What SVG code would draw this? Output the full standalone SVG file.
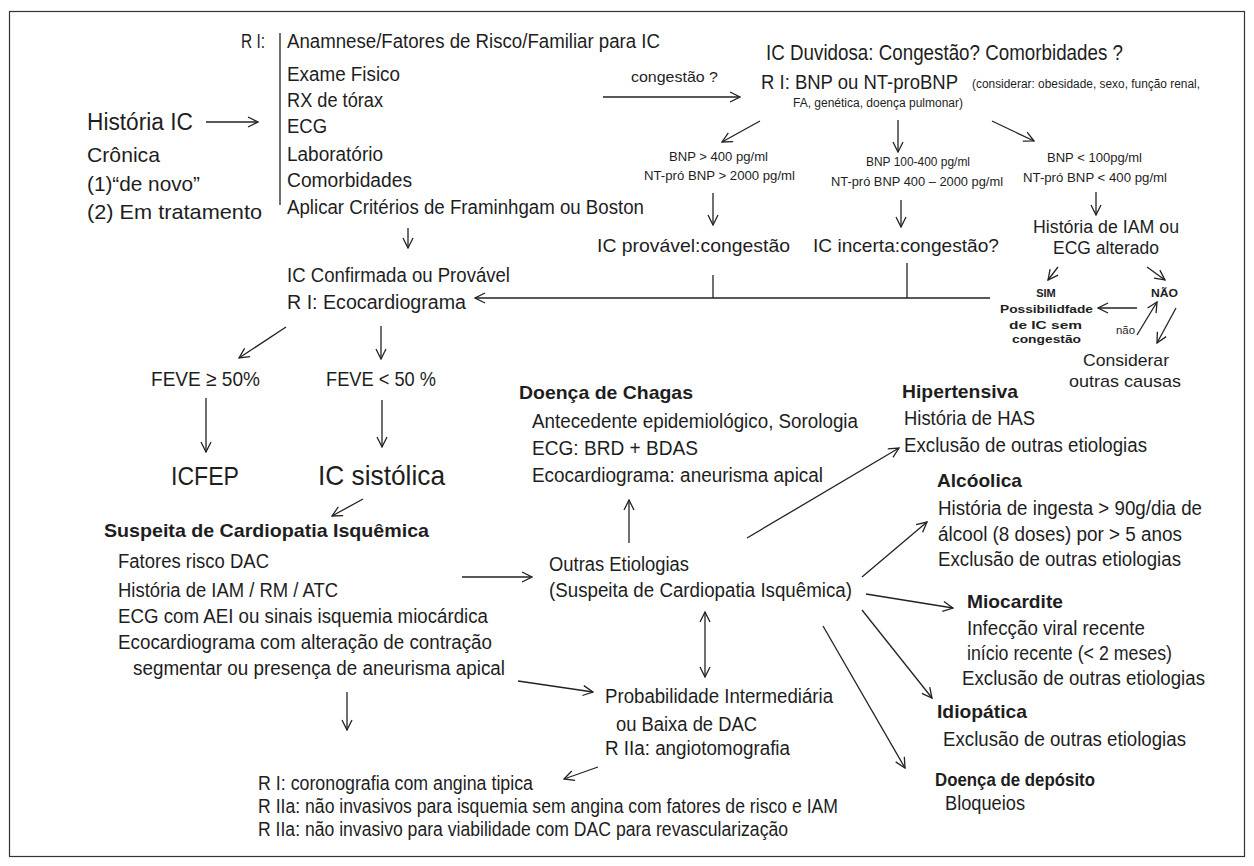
<svg xmlns="http://www.w3.org/2000/svg" width="1254" height="866" viewBox="0 0 1254 866">
<style>
text{font-family:"Liberation Sans",Arial,sans-serif;fill:#1e1e1e}
.t{font-size:20px}
.b{font-weight:bold}
.s{font-size:13px}
.xs{font-size:11px}
.c{stroke:#222;stroke-width:1.3;fill:none}
.a{marker-end:url(#ah)}
</style>
<defs>
<marker id="ah" viewBox="0 0 12 12" refX="11" refY="6" markerWidth="12" markerHeight="12" markerUnits="userSpaceOnUse" orient="auto">
<path d="M1,1 L11,6 L1,11" fill="none" stroke="#222" stroke-width="1.3"/>
</marker>
<marker id="as" viewBox="0 0 12 12" refX="1" refY="6" markerWidth="12" markerHeight="12" markerUnits="userSpaceOnUse" orient="auto">
<path d="M11,1 L1,6 L11,11" fill="none" stroke="#222" stroke-width="1.3"/>
</marker>
</defs>
<rect x="9.5" y="11.5" width="1235" height="845" fill="#fff" stroke="#333" stroke-width="1.2"/>

<g id="connectors">
<line class="c a" x1="206" y1="122" x2="258" y2="122"/>
<line class="c" x1="280" y1="33" x2="280" y2="205"/>
<line class="c a" x1="603" y1="97" x2="740" y2="97"/>
<line class="c a" x1="760" y1="121" x2="722" y2="142"/>
<line class="c a" x1="898" y1="120" x2="898" y2="152"/>
<line class="c a" x1="992" y1="121" x2="1034" y2="141"/>
<line class="c a" x1="713" y1="193" x2="713" y2="225"/>
<line class="c a" x1="901" y1="200" x2="901" y2="227"/>
<line class="c a" x1="1096" y1="192" x2="1096" y2="215"/>
<line class="c a" x1="1058" y1="267" x2="1048" y2="280"/>
<line class="c a" x1="1147" y1="267" x2="1165" y2="280"/>
<line class="c a" x1="1137" y1="308" x2="1098" y2="308"/>
<line class="c a" x1="1137" y1="335" x2="1157" y2="302"/>
<line class="c a" x1="1176" y1="308" x2="1157" y2="343"/>
<line class="c" x1="713" y1="275" x2="713" y2="298"/>
<line class="c" x1="907" y1="263" x2="907" y2="298"/>
<line class="c a" x1="990" y1="298" x2="475" y2="298"/>
<line class="c a" x1="408" y1="228" x2="408" y2="248"/>
<line class="c a" x1="286" y1="327" x2="239" y2="358"/>
<line class="c a" x1="381" y1="326" x2="381" y2="359"/>
<line class="c a" x1="206" y1="398" x2="206" y2="452"/>
<line class="c a" x1="382" y1="400" x2="382" y2="447"/>
<line class="c a" x1="363" y1="499" x2="332" y2="516"/>
<line class="c a" x1="462" y1="577" x2="532" y2="577"/>
<line class="c a" x1="629" y1="543" x2="629" y2="500"/>
<line class="c a" x1="747" y1="538" x2="899" y2="448"/>
<line class="c a" x1="862" y1="577" x2="927" y2="522"/>
<line class="c a" x1="866" y1="594" x2="953" y2="608"/>
<line class="c a" x1="862" y1="610" x2="932" y2="698"/>
<line class="c a" x1="823" y1="626" x2="905" y2="768"/>
<line class="c a" x1="705" y1="612" x2="705" y2="677" marker-start="url(#as)"/>
<line class="c a" x1="518" y1="681" x2="593" y2="692"/>
<line class="c a" x1="347" y1="692" x2="347" y2="730"/>
<line class="c a" x1="598" y1="767" x2="564" y2="779"/>
</g>

<g id="historia">
<text x="87" y="130" style="font-size:23px" textLength="106" lengthAdjust="spacingAndGlyphs">História IC</text>
<text x="87" y="162" style="font-size:21px" textLength="73" lengthAdjust="spacingAndGlyphs">Crônica</text>
<text x="87" y="191" style="font-size:21px" textLength="113" lengthAdjust="spacingAndGlyphs">(1)“de novo”</text>
<text x="87" y="219" style="font-size:21px" textLength="175" lengthAdjust="spacingAndGlyphs">(2) Em tratamento</text>
</g>

<g id="ri-list">
<text class="t" x="241" y="48" textLength="24" lengthAdjust="spacingAndGlyphs">R I:</text>
<text class="t" x="287" y="48" textLength="373" lengthAdjust="spacingAndGlyphs">Anamnese/Fatores de Risco/Familiar para IC</text>
<text class="t" x="287" y="81" textLength="113" lengthAdjust="spacingAndGlyphs">Exame Fisico</text>
<text class="t" x="287" y="107" textLength="96" lengthAdjust="spacingAndGlyphs">RX de tórax</text>
<text class="t" x="287" y="133" textLength="40" lengthAdjust="spacingAndGlyphs">ECG</text>
<text class="t" x="287" y="161" textLength="96" lengthAdjust="spacingAndGlyphs">Laboratório</text>
<text class="t" x="287" y="187" textLength="125" lengthAdjust="spacingAndGlyphs">Comorbidades</text>
<text class="t" x="287" y="214" textLength="357" lengthAdjust="spacingAndGlyphs">Aplicar Critérios de Framinhgam ou Boston</text>
</g>

<g id="congestao-label">
<text x="631" y="82" style="font-size:15px" textLength="87" lengthAdjust="spacingAndGlyphs">congestão ?</text>
</g>

<g id="ic-duvidosa">
<text x="766" y="60" style="font-size:22px" textLength="357" lengthAdjust="spacingAndGlyphs">IC Duvidosa: Congestão? Comorbidades ?</text>
<text x="761" y="89" style="font-size:21px" textLength="197" lengthAdjust="spacingAndGlyphs">R I: BNP ou NT-proBNP</text>
<text x="972" y="88" style="font-size:12px" textLength="228" lengthAdjust="spacingAndGlyphs">(considerar: obesidade, sexo, função renal,</text>
<text x="793" y="107" style="font-size:12px" textLength="170" lengthAdjust="spacingAndGlyphs">FA, genética, doença pulmonar)</text>
</g>

<g id="bnp-high">
<text class="s" x="669" y="161" textLength="99" lengthAdjust="spacingAndGlyphs">BNP &gt; 400 pg/ml</text>
<text class="s" x="644" y="180" textLength="151" lengthAdjust="spacingAndGlyphs">NT-pró BNP &gt; 2000 pg/ml</text>
</g>
<g id="bnp-mid">
<text class="s" x="866" y="166" textLength="104" lengthAdjust="spacingAndGlyphs">BNP 100-400 pg/ml</text>
<text class="s" x="831" y="186" textLength="172" lengthAdjust="spacingAndGlyphs">NT-pró BNP 400 – 2000 pg/ml</text>
</g>
<g id="bnp-low">
<text class="s" x="1047" y="162" textLength="95" lengthAdjust="spacingAndGlyphs">BNP &lt; 100pg/ml</text>
<text class="s" x="1023" y="182" textLength="144" lengthAdjust="spacingAndGlyphs">NT-pró BNP &lt; 400 pg/ml</text>
</g>

<g id="ic-provavel">
<text x="597" y="252" style="font-size:19px" textLength="193" lengthAdjust="spacingAndGlyphs">IC  provável:congestão</text>
</g>
<g id="ic-incerta">
<text x="813" y="252" style="font-size:19px" textLength="186" lengthAdjust="spacingAndGlyphs">IC incerta:congestão?</text>
</g>

<g id="historia-iam">
<text x="1033" y="233" style="font-size:18px" textLength="146" lengthAdjust="spacingAndGlyphs">História de IAM  ou</text>
<text x="1053" y="254" style="font-size:18px" textLength="106" lengthAdjust="spacingAndGlyphs">ECG alterado</text>
</g>

<g id="sim">
<text class="xs b" x="1046" y="297" text-anchor="middle">SIM</text>
<text class="xs b" x="1000" y="313" textLength="93" lengthAdjust="spacingAndGlyphs">Possibilidfade</text>
<text class="xs b" x="1009" y="329" textLength="73" lengthAdjust="spacingAndGlyphs">de IC   sem</text>
<text class="xs b" x="1012" y="343" textLength="69" lengthAdjust="spacingAndGlyphs">congestão</text>
</g>
<g id="nao">
<text class="xs b" x="1151" y="297" textLength="27" lengthAdjust="spacingAndGlyphs">NÃO</text>
<text x="1116" y="334" style="font-size:10px" textLength="19" lengthAdjust="spacingAndGlyphs">não</text>
</g>
<g id="considerar">
<text x="1083" y="366" style="font-size:17px" textLength="86" lengthAdjust="spacingAndGlyphs">Considerar</text>
<text x="1069" y="387" style="font-size:17px" textLength="112" lengthAdjust="spacingAndGlyphs">outras causas</text>
</g>

<g id="ic-confirmada">
<text class="t" x="287" y="282" textLength="223" lengthAdjust="spacingAndGlyphs">IC Confirmada ou Provável</text>
<text class="t" x="287" y="309" textLength="179" lengthAdjust="spacingAndGlyphs">R I:  Ecocardiograma</text>
</g>

<g id="feve-ge50"><text x="151" y="386" style="font-size:21px" textLength="109" lengthAdjust="spacingAndGlyphs">FEVE ≥ 50%</text></g>
<g id="feve-lt50"><text x="326" y="386" style="font-size:21px" textLength="110" lengthAdjust="spacingAndGlyphs">FEVE &lt; 50 %</text></g>
<g id="icfep"><text x="171" y="485" style="font-size:26px" textLength="68" lengthAdjust="spacingAndGlyphs">ICFEP</text></g>
<g id="ic-sistolica"><text x="318" y="485" style="font-size:28px" textLength="127" lengthAdjust="spacingAndGlyphs">IC sistólica</text></g>

<g id="suspeita">
<text class="b" x="104" y="537" style="font-size:19px" textLength="325" lengthAdjust="spacingAndGlyphs">Suspeita de Cardiopatia Isquêmica</text>
<text class="t" x="118" y="568" textLength="151" lengthAdjust="spacingAndGlyphs">Fatores risco DAC</text>
<text class="t" x="118" y="597" textLength="220" lengthAdjust="spacingAndGlyphs">História de IAM  / RM / ATC</text>
<text class="t" x="118" y="623" textLength="370" lengthAdjust="spacingAndGlyphs">ECG com AEI ou sinais isquemia miocárdica</text>
<text class="t" x="118" y="649" textLength="374" lengthAdjust="spacingAndGlyphs">Ecocardiograma com alteração de contração</text>
<text class="t" x="133" y="675" textLength="372" lengthAdjust="spacingAndGlyphs">segmentar ou presença de aneurisma apical</text>
</g>

<g id="chagas">
<text class="b" x="519" y="399" style="font-size:19px" textLength="174" lengthAdjust="spacingAndGlyphs">Doença de Chagas</text>
<text class="t" x="532" y="428" textLength="326" lengthAdjust="spacingAndGlyphs">Antecedente epidemiológico, Sorologia</text>
<text class="t" x="532" y="455" textLength="166" lengthAdjust="spacingAndGlyphs">ECG: BRD  + BDAS</text>
<text class="t" x="532" y="482" textLength="291" lengthAdjust="spacingAndGlyphs">Ecocardiograma: aneurisma apical</text>
</g>

<g id="outras">
<text class="t" x="549" y="571" textLength="140" lengthAdjust="spacingAndGlyphs">Outras Etiologias</text>
<text class="t" x="549" y="597" textLength="303" lengthAdjust="spacingAndGlyphs">(Suspeita de Cardiopatia Isquêmica)</text>
</g>

<g id="probabilidade">
<text class="t" x="605" y="703" textLength="228" lengthAdjust="spacingAndGlyphs">Probabilidade Intermediária</text>
<text class="t" x="616" y="731" textLength="141" lengthAdjust="spacingAndGlyphs">ou Baixa de DAC</text>
<text class="t" x="605" y="755" textLength="185" lengthAdjust="spacingAndGlyphs">R IIa:  angiotomografia</text>
</g>

<g id="hipertensiva">
<text class="b" x="902" y="398" style="font-size:19px" textLength="116" lengthAdjust="spacingAndGlyphs">Hipertensiva</text>
<text class="t" x="904" y="425" textLength="131" lengthAdjust="spacingAndGlyphs">História de HAS</text>
<text class="t" x="904" y="452" textLength="243" lengthAdjust="spacingAndGlyphs">Exclusão de outras etiologias</text>
</g>

<g id="alcoolica">
<text class="b" x="937" y="487" style="font-size:19px" textLength="85" lengthAdjust="spacingAndGlyphs">Alcóolica</text>
<text class="t" x="938" y="515" textLength="264" lengthAdjust="spacingAndGlyphs">História de ingesta &gt; 90g/dia de</text>
<text class="t" x="938" y="541" textLength="244" lengthAdjust="spacingAndGlyphs">álcool (8 doses) por &gt; 5 anos</text>
<text class="t" x="938" y="566" textLength="243" lengthAdjust="spacingAndGlyphs">Exclusão de outras etiologias</text>
</g>

<g id="miocardite">
<text class="b" x="967" y="608" style="font-size:19px" textLength="96" lengthAdjust="spacingAndGlyphs">Miocardite</text>
<text class="t" x="967" y="635" textLength="178" lengthAdjust="spacingAndGlyphs">Infecção viral  recente</text>
<text class="t" x="967" y="660" textLength="205" lengthAdjust="spacingAndGlyphs">início recente (&lt; 2 meses)</text>
<text class="t" x="962" y="685" textLength="243" lengthAdjust="spacingAndGlyphs">Exclusão de outras etiologias</text>
</g>

<g id="idiopatica">
<text class="b" x="937" y="718" style="font-size:19px" textLength="90" lengthAdjust="spacingAndGlyphs">Idiopática</text>
<text class="t" x="943" y="746" textLength="243" lengthAdjust="spacingAndGlyphs">Exclusão de outras etiologias</text>
</g>

<g id="deposito">
<text class="b" x="935" y="786" style="font-size:19px" textLength="160" lengthAdjust="spacingAndGlyphs">Doença de depósito</text>
<text class="t" x="945" y="810" textLength="80" lengthAdjust="spacingAndGlyphs">Bloqueios</text>
</g>

<g id="recomendacoes">
<text class="t" x="258" y="790" textLength="275" lengthAdjust="spacingAndGlyphs">R I:  coronografia com angina tipica</text>
<text class="t" x="258" y="813" textLength="580" lengthAdjust="spacingAndGlyphs">R IIa:  não invasivos para isquemia sem angina com fatores de risco e IAM</text>
<text class="t" x="258" y="836" textLength="530" lengthAdjust="spacingAndGlyphs">R IIa:  não invasivo para viabilidade com DAC para revascularização</text>
</g>
</svg>
